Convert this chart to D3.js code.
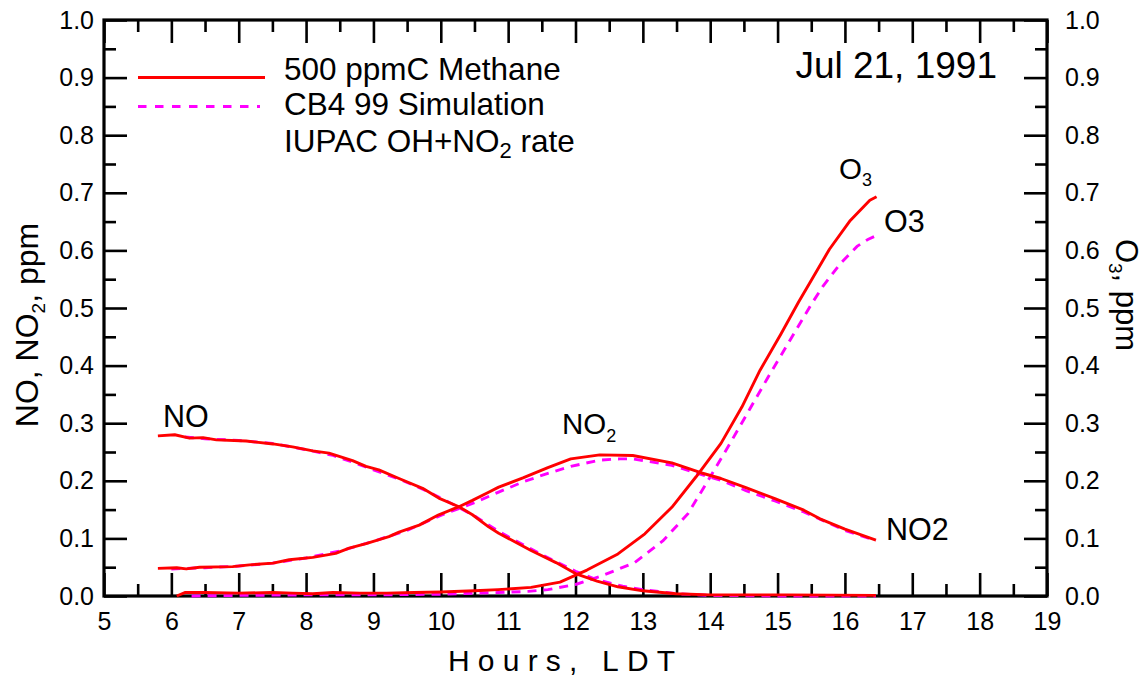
<!DOCTYPE html>
<html><head><meta charset="utf-8">
<script src="https://cdn.jsdelivr.net/npm/d3@7"></script>
<style>
html,body{margin:0;padding:0;background:#fff;}
svg{display:block;font-family:"Liberation Sans",Arial,sans-serif;}
</style></head>
<body>
<svg id="c" width="1146" height="676"></svg>
<script>
// ---- data (hours LDT, ppm) ----
const hourTicks = [5,6,7,8,9,10,11,12,13,14,15,16,17,18,19];
const ppmTicks = [0,0.1,0.2,0.3,0.4,0.5,0.6,0.7,0.8,0.9,1.0];

const noMeasHours = [5.80,6.05,6.27,6.47,6.67,7.11,7.51,7.80,8.10,8.34,8.69,8.89,9.08,9.38,9.73,9.97,10.27,10.47,10.71,10.86,11.34,11.71,12.0,12.32,12.63,13.0,13.49,14.0,14.53,15.14,16.46];
const noMeas      = [0.278,0.280,0.274,0.275,0.271,0.269,0.264,0.259,0.252,0.248,0.235,0.225,0.219,0.204,0.187,0.170,0.155,0.141,0.120,0.109,0.079,0.058,0.039,0.026,0.016,0.009,0.004,0.002,0.002,0.002,0.001];

const no2MeasHours = [5.80,6.08,6.22,6.42,6.91,7.16,7.51,7.75,8.10,8.44,8.64,8.89,9.23,9.38,9.68,9.97,10.27,10.47,10.71,10.86,11.22,11.59,11.93,12.36,12.85,13.43,13.86,14.16,14.53,14.96,15.39,15.63,16.0,16.46];
const no2Meas      = [0.048,0.049,0.047,0.050,0.051,0.054,0.057,0.063,0.067,0.074,0.083,0.091,0.103,0.111,0.123,0.141,0.155,0.166,0.180,0.189,0.205,0.223,0.238,0.245,0.244,0.231,0.214,0.204,0.188,0.169,0.149,0.134,0.116,0.097];

const o3MeasHours = [6.08,6.2,6.5,7.0,7.5,7.8,8.1,8.4,8.8,9.2,9.6,10.0,10.5,10.85,11.34,11.77,12.17,12.63,13.03,13.43,13.79,14.16,14.47,14.74,15.05,15.31,15.51,15.77,16.08,16.37,16.47];
const o3Meas      = [0.0,0.006,0.006,0.005,0.006,0.005,0.004,0.006,0.005,0.005,0.006,0.007,0.009,0.011,0.015,0.024,0.045,0.073,0.108,0.154,0.207,0.265,0.328,0.392,0.455,0.510,0.550,0.602,0.652,0.687,0.693];

const noSimHours = [6.2,6.5,7.0,7.5,8.0,8.4,8.7,9.0,9.4,9.8,10.2,10.5,10.86,11.3,11.7,12.0,12.3,12.7,13.0,13.5,14.0,15.0,16.46];
const noSim      = [0.276,0.273,0.270,0.265,0.254,0.244,0.232,0.219,0.202,0.182,0.158,0.139,0.112,0.084,0.060,0.043,0.029,0.017,0.011,0.004,0.001,0.000,0.000];

const no2SimHours = [6.0,6.5,7.0,7.5,8.0,8.5,9.0,9.5,10.0,10.5,10.85,11.22,11.59,11.93,12.36,12.66,12.85,13.43,13.86,14.16,14.53,14.96,15.39,16.0,16.46];
const no2Sim      = [0.047,0.049,0.052,0.057,0.066,0.078,0.095,0.114,0.140,0.162,0.180,0.198,0.213,0.225,0.236,0.238,0.238,0.227,0.211,0.201,0.183,0.165,0.146,0.114,0.096];

const o3SimHours = [6.3,7.0,8.0,9.0,10.0,10.5,10.85,11.3,11.59,12.0,12.39,12.88,13.3,13.67,13.97,14.28,14.59,14.85,15.2,15.51,15.67,15.93,16.18,16.34,16.49];
const o3Sim      = [0.0,0.001,0.002,0.002,0.003,0.005,0.006,0.008,0.011,0.020,0.035,0.058,0.096,0.143,0.201,0.262,0.325,0.378,0.447,0.508,0.537,0.577,0.607,0.619,0.627];

const legendLabels = ["500 ppmC Methane","CB4 99 Simulation"];

// ---- layout ----
const svg = d3.select("#c");
const L = 104, R = 1047, T = 20, B = 596;
const x = d3.scaleLinear().domain([5,19]).range([L,R]);
const y = d3.scaleLinear().domain([0,1]).range([B,T]);
const yR = d3.scaleLinear().domain([0,1]).range([B,T]);

const minorX = d3.range(5.5,19,1);
const minorY = d3.range(0.05,1,0.1);

function styleAxis(g){
  g.select(".domain").remove();
  g.selectAll(".tick line").attr("stroke","#000").attr("stroke-width",2.6);
  g.selectAll("text").attr("font-size",25).attr("fill","#000")
    .attr("font-family","'Liberation Sans',Arial,sans-serif");
}

// bottom
svg.append("g").attr("transform",`translate(0,${B})`)
  .call(d3.axisBottom(x).tickValues(hourTicks).tickFormat(d3.format("d")).tickSize(-23).tickPadding(16))
  .call(styleAxis);
svg.append("g").attr("transform",`translate(0,${B})`)
  .call(d3.axisBottom(x).tickValues(minorX).tickFormat("").tickSize(-12))
  .call(styleAxis);
// top
svg.append("g").attr("transform",`translate(0,${T})`)
  .call(d3.axisTop(x).tickValues(hourTicks).tickFormat("").tickSize(-23))
  .call(styleAxis);
svg.append("g").attr("transform",`translate(0,${T})`)
  .call(d3.axisTop(x).tickValues(minorX).tickFormat("").tickSize(-12))
  .call(styleAxis);
// left
svg.append("g").attr("transform",`translate(${L},0)`)
  .call(d3.axisLeft(y).tickValues(ppmTicks).tickFormat(d3.format(".1f")).tickSize(-23).tickPadding(10))
  .call(styleAxis);
svg.append("g").attr("transform",`translate(${L},0)`)
  .call(d3.axisLeft(y).tickValues(minorY).tickFormat("").tickSize(-12))
  .call(styleAxis);
// right
svg.append("g").attr("transform",`translate(${R},0)`)
  .call(d3.axisRight(yR).tickValues(ppmTicks).tickFormat(d3.format(".1f")).tickSize(-23).tickPadding(18))
  .call(styleAxis);
svg.append("g").attr("transform",`translate(${R},0)`)
  .call(d3.axisRight(yR).tickValues(minorY).tickFormat("").tickSize(-12))
  .call(styleAxis);

// frame
svg.append("rect").attr("x",L).attr("y",T).attr("width",R-L).attr("height",B-T)
  .attr("fill","none").attr("stroke","#000").attr("stroke-width",3.2);

// ---- curves ----
const line = d3.line().x(d=>x(d[0])).y(d=>y(d[1]));
function series(hs, vs){ return hs.map((h,i)=>[h,vs[i]]); }

const sims = [[noSimHours,noSim],[no2SimHours,no2Sim],[o3SimHours,o3Sim]];
const meas = [[noMeasHours,noMeas],[no2MeasHours,no2Meas],[o3MeasHours,o3Meas]];

svg.append("g").selectAll("path").data(sims).join("path")
  .attr("d",d=>line(series(d[0],d[1])))
  .attr("fill","none").attr("stroke","#ff00ff").attr("stroke-width",2.9)
  .attr("stroke-dasharray","9,7");
svg.append("g").selectAll("path").data(meas).join("path")
  .attr("d",d=>line(series(d[0],d[1])))
  .attr("fill","none").attr("stroke","#ff0000").attr("stroke-width",2.9)
  .attr("stroke-linejoin","round");

// ---- legend ----
const lg = svg.append("g");
lg.append("line").attr("x1",138).attr("x2",265).attr("y1",77.5).attr("y2",77.5)
  .attr("stroke","#ff0000").attr("stroke-width",3);
lg.append("line").attr("x1",138).attr("x2",260).attr("y1",106.5).attr("y2",106.5)
  .attr("stroke","#ff00ff").attr("stroke-width",3).attr("stroke-dasharray","8.5,8.5");
lg.selectAll("text.lt").data(legendLabels).join("text").attr("class","lt")
  .attr("x",284).attr("y",(d,i)=>[79.5,115][i]).attr("font-size",31.5).text(d=>d);
const t3 = lg.append("text").attr("x",284).attr("y",151.5).attr("font-size",31.5);
t3.append("tspan").text("IUPAC OH+NO");
t3.append("tspan").attr("font-size",22).attr("dy",6).text("2");
t3.append("tspan").attr("dy",-6).text(" rate");

svg.append("text").attr("x",997).attr("y",78).attr("text-anchor","end")
  .attr("font-size",37).text("Jul 21, 1991");

// ---- curve labels ----
svg.append("text").attr("x",163).attr("y",427).attr("font-size",30.5).text("NO");
const n2 = svg.append("text").attr("x",562).attr("y",434).attr("font-size",29.5);
n2.append("tspan").text("NO");
n2.append("tspan").attr("font-size",18).attr("dy",8).text("2");
const o3l = svg.append("text").attr("x",839).attr("y",179).attr("font-size",29.5);
o3l.append("tspan").text("O");
o3l.append("tspan").attr("font-size",18).attr("dy",7).text("3");
svg.append("text").attr("x",884).attr("y",232).attr("font-size",30.5).text("O3");
svg.append("text").attr("x",886).attr("y",540).attr("font-size",30.5).text("NO2");

// ---- axis titles ----
svg.append("text").attr("x",448).attr("y",671).attr("font-size",30)
  .attr("letter-spacing","8.2px").text("Hours, LDT");

const yt = svg.append("text").attr("transform","translate(38,325) rotate(-90)")
  .attr("text-anchor","middle").attr("font-size",32);
yt.append("tspan").text("NO, NO");
yt.append("tspan").attr("font-size",19).attr("dy",7).text("2");
yt.append("tspan").attr("dy",-7).text(", ppm");

const rt = svg.append("text").attr("transform","translate(1116,295) rotate(90)")
  .attr("text-anchor","middle").attr("font-size",31);
rt.append("tspan").text("O");
rt.append("tspan").attr("font-size",19).attr("dy",7).text("3");
rt.append("tspan").attr("dy",-7).text(", ppm");
</script>
</body></html>
